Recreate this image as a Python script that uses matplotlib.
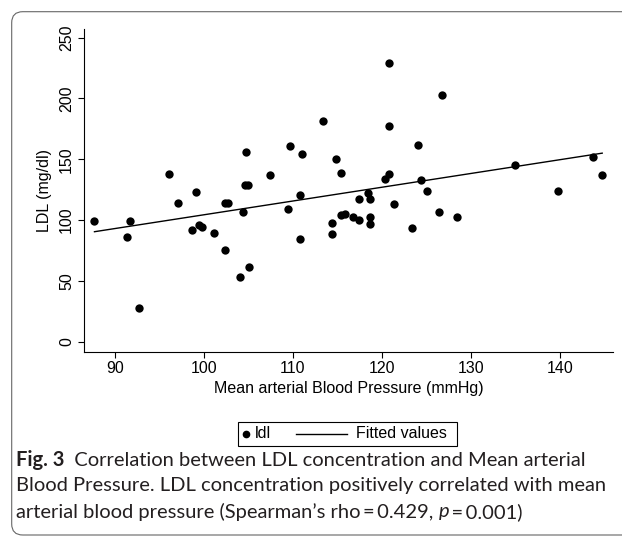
import matplotlib
matplotlib.use("Agg")
import matplotlib.pyplot as plt
from matplotlib.patches import FancyBboxPatch, Rectangle
from matplotlib.lines import Line2D
from matplotlib.transforms import IdentityTransform
import numpy as np

# Mean arterial blood pressure (mmHg) and LDL (mg/dl)
map_mmhg = [87.7, 91.4, 91.7, 92.7, 96.1, 97.1, 98.7, 99.1, 99.5, 99.8,
            101.1, 102.4, 102.4, 102.7, 104.1, 104.4, 104.6, 105.0, 105.1, 104.7,
            107.4, 109.4, 109.7, 110.75, 110.75, 111.06, 113.4, 114.4, 114.4, 114.8,
            115.4, 115.4, 115.8, 116.7, 117.4, 117.4, 118.4, 118.7, 118.7, 118.7,
            120.4, 120.75, 120.75, 120.75, 121.4, 123.4, 124.05, 124.4, 125.1, 126.4,
            126.7, 128.4, 135.0, 139.75, 143.7, 144.75]
ldl = [99.0, 86.4, 99.0, 27.7, 137.9, 114.3, 91.6, 123.1, 95.7, 94.0,
       89.4, 75.4, 114.3, 114.3, 53.5, 107.0, 128.9, 128.9, 61.4, 156.3,
       137.3, 109.4, 161.3, 120.6, 84.5, 154.4, 181.5, 97.3, 88.3, 150.2,
       138.7, 103.9, 105.0, 102.3, 117.6, 100.1, 122.5, 117.6, 102.3, 96.5,
       133.5, 137.7, 177.4, 229.4, 113.2, 93.5, 162.0, 132.7, 123.9, 106.9,
       203.1, 102.3, 145.6, 124.2, 151.9, 136.8]

x_ticks = [90, 100, 110, 120, 130, 140]
y_ticks = [0, 50, 100, 150, 200, 250]

caption = [
    [("Fig. 3", "bold", "normal"), ("  Correlation between LDL concentration and Mean arterial", "normal", "normal")],
    [("Blood Pressure. LDL concentration positively correlated with mean", "normal", "normal")],
    [("arterial blood pressure (Spearman\u2019s rho\u2009=\u20090.429, ", "normal", "normal"),
     ("p", "normal", "italic"), ("\u2009=\u20090.001)", "normal", "normal")],
]

plt.rcParams['font.family'] = ['Liberation Sans', 'DejaVu Sans']

W, H = 622, 536
fig = plt.figure(figsize=(6.22, 5.36), dpi=100)

# journal figure frame (rounded, runs off the right edge)
fig.add_artist(FancyBboxPatch((11.7, 1.0), 700, H - 11.7 - 1.0,
                              boxstyle="round,pad=0,rounding_size=11",
                              transform=IdentityTransform(), fill=False,
                              edgecolor='#666666', lw=0.8))

ax = fig.add_axes([0.135, 0.344, 0.8505, 0.6014])

x = np.array(map_mmhg)
y = np.array(ldl)
ax.scatter(x, y, s=36, color='black', zorder=3, linewidths=0)

# linear fit ("Fitted values")
slope, intercept = np.polyfit(x, y, 1)
xs = np.array([x.min(), x.max()])
ax.plot(xs, intercept + slope * xs, color='black', lw=1.0)

ax.set_xlim(86.52, 145.96)
ax.set_ylim(-8.2, 256.9)
ax.set_xticks(x_ticks)
ax.set_yticks(y_ticks)
for side in ['top', 'right']:
    ax.spines[side].set_visible(False)
for side in ['left', 'bottom']:
    ax.spines[side].set_linewidth(0.8)
ax.tick_params(length=4, width=0.8, labelsize=11.5, pad=3)
plt.setp(ax.get_yticklabels(), rotation=90, va='center')
ax.set_xlabel('Mean arterial Blood Pressure (mmHg)', fontsize=11.5, labelpad=3)
ax.set_ylabel('LDL (mg/dl)', fontsize=11.5, labelpad=5)


def fx(px):
    return px / W


def fy(py):
    return 1 - py / H


# legend box below the plot
fig.add_artist(Rectangle((fx(238), fy(446)), fx(457) - fx(238), fy(422) - fy(446),
                         transform=fig.transFigure, fill=False, edgecolor='black', lw=0.8))
fig.add_artist(Line2D([fx(246)], [fy(434)], marker='o', ms=4.5, color='black',
                      transform=fig.transFigure))
fig.text(fx(255), fy(434), 'ldl', fontsize=11.5, va='center', ha='left')
fig.add_artist(Line2D([fx(296), fx(347)], [fy(434), fy(434)], color='black', lw=1.0,
                      transform=fig.transFigure))
fig.text(fx(356), fy(434), 'Fitted values', fontsize=11.5, va='center', ha='left')

# caption, drawn piece by piece so bold / italic parts sit inline
cap_font = ['Lato', 'DejaVu Sans']
renderer = fig.canvas.get_renderer()
for line, ypix in zip(caption, [460, 486, 512]):
    xpix = 16
    for txt, weight, style in line:
        t = fig.text(fx(xpix), fy(ypix), txt, fontsize=14.5, va='center', ha='left',
                     family=cap_font, weight=weight, style=style, color='#231f20')
        xpix += t.get_window_extent(renderer).width

fig.savefig('out.png', dpi=100)
